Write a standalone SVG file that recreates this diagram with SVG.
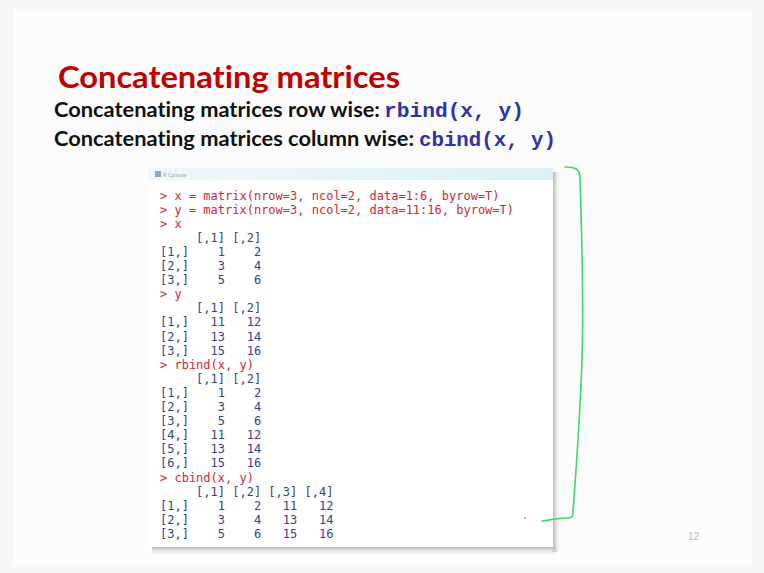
<svg xmlns="http://www.w3.org/2000/svg" width="764" height="573" viewBox="0 0 764 573">
<defs>
<linearGradient id="tb" x1="0" y1="0" x2="1" y2="0"><stop offset="0" stop-color="#f0f7f9"/><stop offset="1" stop-color="#dcf1f6"/></linearGradient>
<linearGradient id="shR" x1="0" y1="0" x2="1" y2="0"><stop offset="0" stop-color="#b9b9b0"/><stop offset="1" stop-color="#f6f6f6" stop-opacity="0"/></linearGradient>
<linearGradient id="shB" x1="0" y1="0" x2="0" y2="1"><stop offset="0" stop-color="#b9b9b0"/><stop offset="1" stop-color="#f6f6f6" stop-opacity="0"/></linearGradient>
<style>
.title{font-family:Lato,"Open Sans",sans-serif;font-weight:bold;font-size:31px;fill:#c00000;font-variant-ligatures:none}
.sub{font-family:Lato,"Open Sans",sans-serif;font-weight:bold;font-size:20px;fill:#111;font-variant-ligatures:none}
.code{font-family:"Liberation Mono","Courier New",monospace;font-weight:bold;font-size:21px;fill:#2f33a6}
.con{font-family:"DejaVu Sans Mono",monospace;font-size:12px;white-space:pre}
.cmd{fill:#d3263a}
.out{fill:#3a3f8c}
.pg{font-family:"Liberation Sans",sans-serif;font-size:10px;fill:#bdbdbd}
</style>
</defs>
<rect width="764" height="573" fill="#f8f8f8"/>
<rect x="14" y="10" width="738" height="555" fill="#fcfcfc"/>
<text class="title" x="58" y="88" textLength="342" lengthAdjust="spacingAndGlyphs">Concatenating matrices</text>
<text class="sub" x="54" y="117" textLength="326" lengthAdjust="spacingAndGlyphs">Concatenating matrices row wise:</text>
<text class="code" x="384" y="117" textLength="140" lengthAdjust="spacingAndGlyphs">rbind(x, y)</text>
<text class="sub" x="54" y="146" textLength="360" lengthAdjust="spacingAndGlyphs">Concatenating matrices column wise:</text>
<text class="code" x="419" y="146" textLength="137" lengthAdjust="spacingAndGlyphs">cbind(x, y)</text>
<g id="console">
<rect x="553" y="172" width="8" height="380" fill="url(#shR)"/>
<rect x="152" y="547" width="404" height="9" fill="url(#shB)"/>
<rect x="148" y="168" width="405" height="379" fill="#ffffff"/>
<rect x="148" y="168" width="405" height="12" fill="url(#tb)"/>
<rect x="155" y="171" width="6" height="6" fill="#8fa8c4"/>
<text x="163" y="177" font-family="Liberation Sans,sans-serif" font-size="5px" fill="#9aa">R Console</text>
<text class="con">
<tspan class="cmd" x="160" y="199.5">&gt; x = matrix(nrow=3, ncol=2, data=1:6, byrow=T)</tspan>
<tspan class="cmd" x="160" y="213.6">&gt; y = matrix(nrow=3, ncol=2, data=11:16, byrow=T)</tspan>
<tspan class="cmd" x="160" y="227.7">&gt; x</tspan>
<tspan class="out" x="160" y="241.8">     [,1] [,2]</tspan>
<tspan class="out" x="160" y="255.9">[1,]    1    2</tspan>
<tspan class="out" x="160" y="270">[2,]    3    4</tspan>
<tspan class="out" x="160" y="284.1">[3,]    5    6</tspan>
<tspan class="cmd" x="160" y="298.2">&gt; y</tspan>
<tspan class="out" x="160" y="312.3">     [,1] [,2]</tspan>
<tspan class="out" x="160" y="326.4">[1,]   11   12</tspan>
<tspan class="out" x="160" y="340.5">[2,]   13   14</tspan>
<tspan class="out" x="160" y="354.6">[3,]   15   16</tspan>
<tspan class="cmd" x="160" y="368.7">&gt; rbind(x, y)</tspan>
<tspan class="out" x="160" y="382.8">     [,1] [,2]</tspan>
<tspan class="out" x="160" y="396.9">[1,]    1    2</tspan>
<tspan class="out" x="160" y="411">[2,]    3    4</tspan>
<tspan class="out" x="160" y="425.1">[3,]    5    6</tspan>
<tspan class="out" x="160" y="439.2">[4,]   11   12</tspan>
<tspan class="out" x="160" y="453.3">[5,]   13   14</tspan>
<tspan class="out" x="160" y="467.4">[6,]   15   16</tspan>
<tspan class="cmd" x="160" y="481.5">&gt; cbind(x, y)</tspan>
<tspan class="out" x="160" y="495.6">     [,1] [,2] [,3] [,4]</tspan>
<tspan class="out" x="160" y="509.7">[1,]    1    2   11   12</tspan>
<tspan class="out" x="160" y="523.8">[2,]    3    4   13   14</tspan>
<tspan class="out" x="160" y="537.9">[3,]    5    6   15   16</tspan>
</text>
</g>
<g id="bracket" fill="none" stroke="#3fd86a" stroke-width="1.6" stroke-linecap="round" stroke-linejoin="round">
<path d="M565,167 C574,167 580,168 580,178 C582,240 584,300 582,360 C580,420 576,470 573,512 C573,517 572,518 567,518 C558,518 550,520 542,521"/>
<circle cx="525" cy="518" r="0.9" fill="#3fd86a" stroke="none"/>
</g>
<text class="pg" x="688" y="540">12</text>
</svg>
